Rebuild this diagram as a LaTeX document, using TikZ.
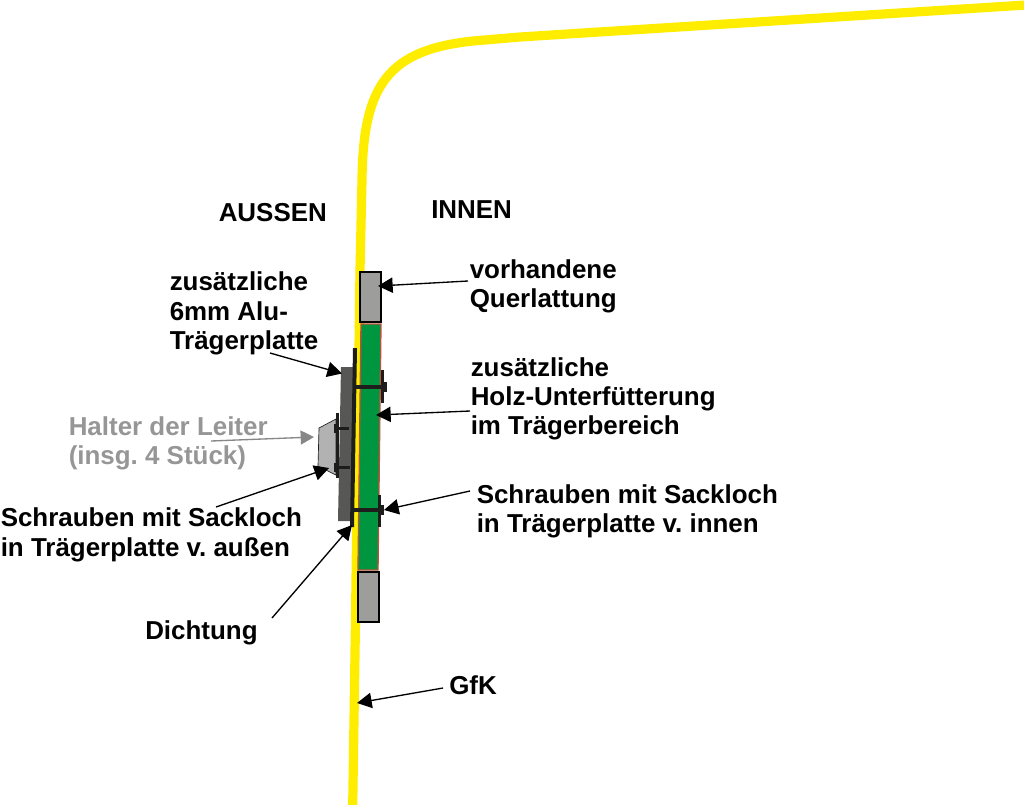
\documentclass[tikz,border=0pt]{standalone}
\usepackage{fontspec}
\setmainfont{Liberation Sans}
\usetikzlibrary{arrows.meta}
\definecolor{gfk}{RGB}{255,237,0}
\definecolor{holz}{RGB}{0,150,64}
\definecolor{holzrand}{RGB}{190,80,60}
\definecolor{latte}{RGB}{157,157,156}
\definecolor{platte}{RGB}{87,87,86}
\definecolor{halter}{RGB}{178,178,178}
\definecolor{halttext}{RGB}{150,150,150}
\definecolor{haltpfeil}{RGB}{135,135,135}
\definecolor{schwarz}{RGB}{29,29,27}
\tikzset{
  lbl/.style={font=\fontsize{19.45}{22}\selectfont\bfseries\frenchspacing, align=left, anchor=west, inner sep=0pt, text=black},
  pfeil/.style={draw=black, line width=1pt, -{Triangle[length=11pt,width=11.5pt]}},
  graupfeil/.style={draw=haltpfeil, line width=1pt, -{Triangle[length=10pt,width=10.5pt]}},
  metall/.style={fill=schwarz, draw=none},
}
\begin{document}
\begin{tikzpicture}[x=0.75pt,y=-0.75pt]
\useasboundingbox (0,0) rectangle (1024,804);
\fill[white] (0,0) rectangle (1024,804);
% GfK shell
\draw[gfk, line width=6.9pt, line join=round] (352.7,806) -- (355.5,620) -- (360,270) -- (362,180)
  .. controls (363,85) and (388,50) .. (473,41) -- (520,37) -- (1026,5);
% battens
\draw[black, fill=latte, line width=1pt] (360,272) rectangle (381,322);
\draw[black, fill=latte, line width=1pt] (358,572) rectangle (379,622);
% packing
\draw[holzrand, fill=holz, line width=1pt] (361,324) -- (381,324) -- (378,570) -- (358,570) -- cycle;
% holder
\draw[schwarz, fill=halter, line width=.5pt] (319,428) -- (336,419) -- (336,475) -- (318,466) -- cycle;
% carrier plate
\fill[platte] (341,367) -- (354,367) -- (351,521) -- (338,521) -- cycle;
\fill[schwarz] (353,348) -- (357,348) -- (354,527) -- (350,527) -- cycle;
\fill[metall] (336,413) rectangle (339,478);
\fill[metall] (335,426.5) rectangle (349,430);
\fill[metall] (334,424) rectangle (338,433);
\fill[metall] (335,465.5) rectangle (350,469);
\fill[metall] (334,463) rectangle (338,472);
% bolts
\fill[metall] (355,385) rectangle (385,389);
\fill[metall] (383,382) rectangle (387,392);
\fill[metall] (381,370) rectangle (384,403);
\fill[metall] (352,508) rectangle (382,512);
\fill[metall] (380.5,505) rectangle (384,515);
\fill[metall] (378,495) rectangle (381,527);
% labels
\node[lbl] (aussen) at (218.5,213) {AUSSEN};
\node[lbl] (innen) at (431,210) {INNEN};
\node[lbl] (quer) at (469.5,286.5) {vorhandene\\Querlattung};
\node[lbl] (alu) at (169.5,313.5) {zusätzliche\\6mm Alu-\\Trägerplatte};
\node[lbl] (holzt) at (470.5,399) {zusätzliche\\Holz-Unterfütterung\\im Trägerbereich};
\node[lbl, text=halttext] (halt) at (68.5,443.5) {Halter der Leiter\\(insg. 4 Stück)};
\node[lbl] (saussen) at (0.5,535) {Schrauben mit Sackloch\\in Trägerplatte v. außen};
\node[lbl] (sinnen) at (476.5,511.5) {Schrauben mit Sackloch\\in Trägerplatte v. innen};
\node[lbl] (dicht) at (145,633) {Dichtung};
\node[lbl] (gfkt) at (449,685) {GfK};
% anchors for connector ends
\coordinate (e1) at (378,286);
\coordinate (e2) at (342,373.5);
\coordinate (e3) at (376,415);
\coordinate (e4) at (314,437);
\coordinate (e5) at (329,468);
\coordinate (e6) at (384,510);
\coordinate (e7) at (352,525);
\coordinate (e8) at (357,703);
\coordinate (s1) at (468,281);
\coordinate (s2) at (270,353);
\coordinate (s3) at (470,411);
\coordinate (s4) at (211,441);
\coordinate (s5) at (216,507);
\coordinate (s6) at (470,491);
\coordinate (s7) at (272,618);
\coordinate (s8) at (443,688);
\draw[pfeil] (s1) -- (e1);
\draw[pfeil] (s2) -- (e2);
\draw[pfeil] (s3) -- (e3);
\draw[graupfeil] (s4) -- (e4);
\draw[pfeil] (s5) -- (e5);
\draw[pfeil] (s6) -- (e6);
\draw[pfeil] (s7) -- (e7);
\draw[pfeil] (s8) -- (e8);
\end{tikzpicture}
\end{document}
